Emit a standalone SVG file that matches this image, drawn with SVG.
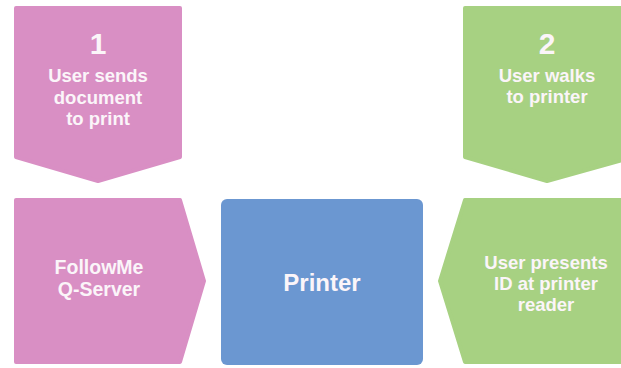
<svg xmlns="http://www.w3.org/2000/svg" width="621" height="368" viewBox="0 0 621 368">
  <style>
    .pink { fill: #d98fc4; stroke: #d98fc4; stroke-width: 4; stroke-linejoin: round; }
    .green { fill: #a7d182; stroke: #a7d182; stroke-width: 4; stroke-linejoin: round; }
    .blue { fill: #6b97d1; }
    .label { font-family: "Liberation Sans", Arial, sans-serif; font-weight: 700; fill: #fbf5f9; text-anchor: middle; font-size: 18.5px; }
    .num { font-size: 30px; }
    .mid { font-size: 19.5px; }
    .big { font-size: 24px; }
  </style>
  <rect width="621" height="368" fill="#ffffff"/>

  <!-- step 1: document sent to the queue server -->
  <g id="step1">
    <path class="pink" d="M16,8 H180 V157 L98,181 L16,157 Z"/>
    <text class="label num" x="98" y="54">1</text>
    <text class="label" x="98" y="82"><tspan>User sends</tspan><tspan x="98" y="104">document</tspan><tspan x="98" y="125">to print</tspan></text>
  </g>

  <!-- step 2: user goes to the printer -->
  <g id="step2">
    <path class="green" d="M465,8 H633 V157 L547,181 L465,157 Z"/>
    <text class="label num" x="547" y="54">2</text>
    <text class="label" x="547" y="82"><tspan>User walks</tspan><tspan x="547" y="103">to printer</tspan></text>
  </g>

  <!-- queue server pushing to the printer -->
  <g id="server">
    <path class="pink" d="M16,200 H180 L204,281 L180,362 H16 Z"/>
    <text class="label mid" x="99" y="274"><tspan>FollowMe</tspan><tspan x="99" y="296">Q-Server</tspan></text>
  </g>

  <!-- printer -->
  <g id="printer">
    <rect class="blue" x="221" y="199" width="202" height="166" rx="6"/>
    <text class="label big" x="322" y="291">Printer</text>
  </g>

  <!-- ID reader at the printer -->
  <g id="reader">
    <path class="green" d="M465,200 H633 V362 H465 L440,281 Z"/>
    <text class="label" x="546" y="269"><tspan>User presents</tspan><tspan x="546" y="290">ID at printer</tspan><tspan x="546" y="311">reader</tspan></text>
  </g>

  <g id="connectors"/>
</svg>
